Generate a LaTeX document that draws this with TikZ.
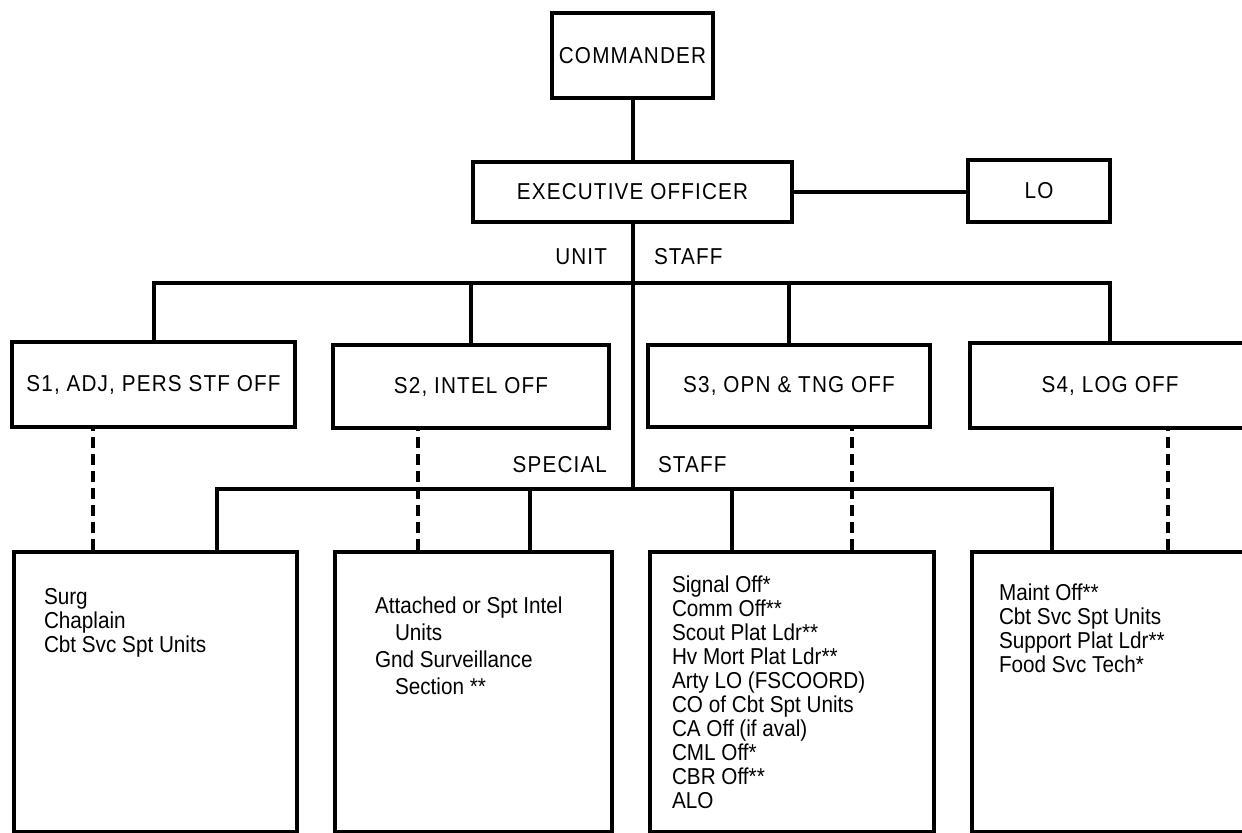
\documentclass[tikz,border=0pt]{standalone}
\usepackage{fontspec}
\setmainfont{Liberation Sans}[FakeStretch=0.9]
\newfontfamily\capsfont{Liberation Sans}[FakeStretch=0.9, LetterSpace=5]
\newcommand{\dutylist}[3]{\parbox[c][140pt][t]{#1}{\raggedright\vspace*{#2}#3}}
\begin{document}
\begin{tikzpicture}
[
    x=0.5pt, y=-0.5pt,
    line width=2pt,
    office/.style={draw, line width=2pt, inner sep=0pt, font=\capsfont\fontsize{11.5}{12}\selectfont},
    duties/.style={draw, line width=2pt, anchor=north west, inner ysep=0pt, font=\fontsize{11.5}{12}\selectfont},
    staff/.style={inner sep=0pt, font=\capsfont\fontsize{11.5}{12}\selectfont},
    dashline/.style={dash pattern=on 5.5pt off 3pt},
]
\useasboundingbox (0,0) rectangle (1242,833);
\clip (0,0) rectangle (1242,833);
\node[office, minimum width=80.5pt, minimum height=42.5pt] (cmd) at (632.5,55.5) {COMMANDER};
\node[office, minimum width=159.5pt, minimum height=30pt] (xo) at (632.5,192) {EXECUTIVE OFFICER};
\node[office, minimum width=71pt, minimum height=31pt] (lo) at (1039,191) {LO};
\node[office, minimum width=141.5pt, minimum height=42.5pt] (s1) at (153.5,384.5) {S1, ADJ, PERS STF OFF};
\node[office, minimum width=138pt, minimum height=41.5pt] (s2) at (471,386.5) {S2, INTEL OFF};
\node[office, minimum width=141pt, minimum height=41pt] (s3) at (789,386) {S3, OPN \& TNG OFF};
\node[office, minimum width=140pt, minimum height=42.5pt] (s4) at (1110,385.5) {S4, LOG OFF};
\node[duties, inner xsep=15pt] (b1) at (12,550) {\dutylist{111.5pt}{18pt}{Surg\\Chaplain\\Cbt Svc Spt Units}};
\node[duties, inner xsep=20pt] (b2) at (333,550) {\dutylist{98.5pt}{22.5pt}{\fontsize{11.5}{13.5}\selectfont
    Attached or Spt Intel\\\hspace*{10pt}Units\\Gnd Surveillance\\\hspace*{10pt}Section **}};
\node[duties, inner xsep=11pt] (b3) at (648,550) {\dutylist{120pt}{12pt}{Signal Off*\\Comm Off**\\Scout Plat Ldr**\\
    Hv Mort Plat Ldr**\\Arty LO (FSCOORD)\\CO of Cbt Spt Units\\CA Off (if aval)\\CML Off*\\CBR Off**\\ALO}};
\node[duties, inner xsep=13.5pt] (b4) at (970,550) {\dutylist{113pt}{16pt}{Maint Off**\\Cbt Svc Spt Units\\
    Support Plat Ldr**\\Food Svc Tech*}};
\node[staff, anchor=east] (unitword) at (609,257) {UNIT};
\node[staff, anchor=west] (unitstaff) at (652,257) {STAFF};
\node[staff, anchor=east] (specword) at (609,465) {SPECIAL};
\node[staff, anchor=west] (specstaff) at (656,465) {STAFF};
\coordinate (ub) at (632.5,283);
\coordinate (sb) at (632.5,489);
\coordinate (d1) at (217,550);
\coordinate (d2) at (530,550);
\coordinate (d3) at (732,550);
\coordinate (d4) at (1052,550);
\coordinate (e1) at (93,550);
\coordinate (e2) at (418,550);
\coordinate (e3) at (852,550);
\coordinate (e4) at (1168,550);
\draw (cmd) -- (xo);
\draw (xo.east) -- (lo.west |- xo.east);
\draw (xo) -- (sb);
\draw (s1) |- (ub) -| (s4);
\draw (s2) -- (s2 |- ub);
\draw (s3) -- (s3 |- ub);
\draw (d1) |- (sb) -| (d4);
\draw (d2) -- (d2 |- sb);
\draw (d3) -- (d3 |- sb);
\draw[dashline] (e1) -- (e1 |- s1.south);
\draw[dashline] (e2) -- (e2 |- s2.south);
\draw[dashline] (e3) -- (e3 |- s3.south);
\draw[dashline] (e4) -- (e4 |- s4.south);
\end{tikzpicture}
\end{document}
